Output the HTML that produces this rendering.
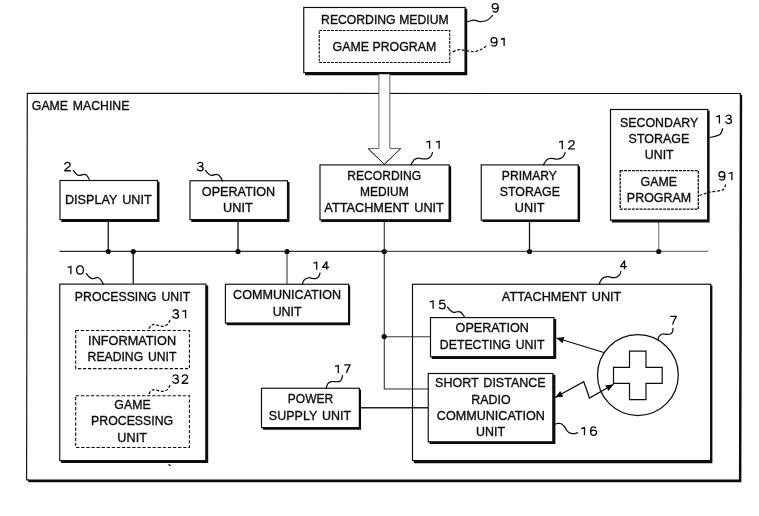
<!DOCTYPE html>
<html><head><meta charset="utf-8"><title>Block diagram</title>
<style>html,body{margin:0;padding:0;background:#fff}svg{display:block}text{font-family:"Liberation Sans",sans-serif}</style>
</head><body>
<svg width="759" height="516" viewBox="0 0 759 516" font-family="Liberation Sans, sans-serif" fill="#0c0c0c" style="filter:grayscale(1)">
<rect width="759" height="516" fill="#fff"/>
<path d="M26.6,480.3 L27.3,93.4 L740.5,93.5 L740.3,96" fill="none" stroke="#0c0c0c" stroke-width="1.15" stroke-linejoin="miter"/>
<path d="M739.8,94.9 L742.2,94.9 L741.4,482.2 L28.2,482.2 L28.2,479.4 L738.9,479.5 Z" fill="#0c0c0c"/>
<path d="M26.2,479.9 H29" fill="none" stroke="#0c0c0c" stroke-width="1.1"/>
<text x="80.60" y="110" font-size="13.4" text-anchor="middle" textLength="97.50" lengthAdjust="spacingAndGlyphs" stroke="#0c0c0c" stroke-width="0.35" word-spacing="1.6">GAME MACHINE</text>
<line x1="59.5" y1="251.4" x2="384.3" y2="251.4" stroke="#2e2e2e" stroke-width="1.15"/>
<line x1="384.3" y1="251.4" x2="659" y2="251.4" stroke="#505050" stroke-width="1.15"/>
<line x1="659" y1="251.4" x2="708.3" y2="251.4" stroke="#7a7a7a" stroke-width="1.1"/>
<line x1="108.25" y1="221" x2="108.25" y2="251.4" stroke="#0c0c0c" stroke-width="1.25"/>
<line x1="133.25" y1="251.4" x2="133.25" y2="283.75" stroke="#0c0c0c" stroke-width="1.25"/>
<line x1="238" y1="221" x2="238" y2="251.4" stroke="#0c0c0c" stroke-width="1.25"/>
<line x1="287" y1="251.4" x2="287" y2="284.25" stroke="#444" stroke-width="1.15"/>
<line x1="384.3" y1="221" x2="384.3" y2="389" stroke="#3a3a3a" stroke-width="1.15"/>
<line x1="529.5" y1="221" x2="529.5" y2="251.4" stroke="#0c0c0c" stroke-width="1.25"/>
<line x1="658.75" y1="221.5" x2="658.75" y2="251.4" stroke="#777" stroke-width="1.1"/>
<line x1="384.3" y1="336.7" x2="430.5" y2="336.7" stroke="#3a3a3a" stroke-width="1.15"/>
<line x1="383.75" y1="389" x2="428.25" y2="389" stroke="#2a2a2a" stroke-width="1.2"/>
<line x1="360.5" y1="407.7" x2="428.25" y2="407.7" stroke="#222" stroke-width="1.35"/>
<circle cx="108.25" cy="251.5" r="2.6" fill="#0c0c0c"/>
<circle cx="133.25" cy="251.5" r="2.6" fill="#0c0c0c"/>
<circle cx="238" cy="251.5" r="2.6" fill="#0c0c0c"/>
<circle cx="287" cy="251.5" r="2.6" fill="#0c0c0c"/>
<circle cx="384.3" cy="251.5" r="2.6" fill="#0c0c0c"/>
<circle cx="529.5" cy="251.5" r="2.6" fill="#0c0c0c"/>
<circle cx="658.75" cy="251.5" r="2.6" fill="#0c0c0c"/>
<circle cx="384.2" cy="336.6" r="2.6" fill="#0c0c0c"/>
<rect x="303.75" y="7.5" width="161.45" height="65.05" fill="#fff" stroke="#0c0c0c" stroke-width="1.15"/>
<path d="M464.70,8.80 H467.25 V75.30 H305.05 V72.05 H464.70 Z" fill="#0c0c0c"/>
<text x="384.88" y="24" font-size="13.4" text-anchor="middle" textLength="127.55" lengthAdjust="spacingAndGlyphs" stroke="#0c0c0c" stroke-width="0.35" word-spacing="0.3">RECORDING MEDIUM</text>
<rect x="319.25" y="30.5" width="130.50" height="32.00" fill="none" stroke="#0c0c0c" stroke-width="1.08" stroke-dasharray="2.9 1.02"/>
<text x="384.38" y="50.5" font-size="13.4" text-anchor="middle" textLength="103.55" lengthAdjust="spacingAndGlyphs" stroke="#0c0c0c" stroke-width="0.35" word-spacing="0.2">GAME PROGRAM</text>
<path d="M 492.73,10.66 C 493.15,11.58 494.05,12.00 495.13,12.00 C 497.05,12.00 498.25,10.32 498.25,7.38 C 498.25,4.87 497.17,3.60 495.25,3.60 C 493.33,3.60 492.25,4.70 492.25,6.29 C 492.25,7.80 493.33,8.81 495.13,8.81 C 496.75,8.81 497.95,7.80 498.13,6.46" fill="none" stroke="#0c0c0c" stroke-width="1.3" stroke-linecap="butt" stroke-linejoin="round"/>
<path d="M 491.53,44.71 C 491.95,45.63 492.85,46.05 493.93,46.05 C 495.85,46.05 497.05,44.37 497.05,41.43 C 497.05,38.91 495.97,37.65 494.05,37.65 C 492.13,37.65 491.05,38.74 491.05,40.34 C 491.05,41.85 492.13,42.86 493.93,42.86 C 495.55,42.86 496.75,41.85 496.93,40.51" fill="none" stroke="#0c0c0c" stroke-width="1.3" stroke-linecap="butt" stroke-linejoin="round"/>
<path d="M 504.13,46.05 V 37.65 M 504.55,38.49 L 500.83,39.25" fill="none" stroke="#0c0c0c" stroke-width="1.3" stroke-linecap="butt" stroke-linejoin="round"/>
<path d="M492.6,15.6 C491.67,16.38 489.10,19.30 487,20.3 C484.90,21.30 482.17,21.62 480,21.6 C477.83,21.58 476.07,20.20 474,20.2 C471.93,20.20 468.67,21.37 467.6,21.6" fill="none" stroke="#0c0c0c" stroke-width="1.25" stroke-linecap="round"/>
<path d="M486.2,46.2 C485.17,46.83 482.20,49.10 480,50 C477.80,50.90 475.50,51.53 473,51.6 C470.50,51.67 467.50,50.70 465,50.4 C462.50,50.10 460.45,49.35 458,49.8 C455.55,50.25 451.58,52.55 450.3,53.1" fill="none" stroke="#0c0c0c" stroke-width="1.25" stroke-dasharray="2.9 1.7" stroke-linecap="butt"/>
<path d="M378.9,74.3 V148.5 H368 L384.3,164.3 L400.75,148.5 H389.8 V74.3" fill="#fff" stroke="#666" stroke-width="1"/>
<path d="M368,148.5 L384.3,164.3 L400.75,148.5" fill="none" stroke="#2a2a2a" stroke-width="1"/>
<rect x="60" y="180.5" width="97.50" height="39.15" fill="#fff" stroke="#0c0c0c" stroke-width="1.15"/>
<path d="M157.00,181.80 H159.50 V222.00 H61.30 V219.15 H157.00 Z" fill="#0c0c0c"/>
<text x="108.35" y="204.25" font-size="13.4" text-anchor="middle" textLength="86.80" lengthAdjust="spacingAndGlyphs" stroke="#0c0c0c" stroke-width="0.35" word-spacing="1.6">DISPLAY UNIT</text>
<path d="M 64.69,164.62 C 65.05,163.02 66.13,162.35 67.45,162.35 C 69.25,162.35 70.21,163.27 70.21,164.62 C 70.21,166.05 69.01,166.97 67.45,168.06 C 65.95,169.07 64.93,169.74 64.63,170.75 H 70.87" fill="none" stroke="#0c0c0c" stroke-width="1.3" stroke-linecap="butt" stroke-linejoin="round"/>
<path d="M73.25,170.45 C73.80,171.07 75.55,173.33 76.55,174.15 C77.55,174.97 77.98,175.30 79.25,175.35 C80.52,175.40 82.97,174.51 84.15,174.45 C85.33,174.39 85.62,174.42 86.35,175.0 C87.08,175.58 87.97,176.99 88.55,177.95 C89.13,178.91 89.63,180.28 89.85,180.75" fill="none" stroke="#0c0c0c" stroke-width="1.25" stroke-linecap="round"/>
<rect x="190" y="180.75" width="97.50" height="38.90" fill="#fff" stroke="#0c0c0c" stroke-width="1.15"/>
<path d="M287.00,182.05 H289.50 V222.00 H191.30 V219.15 H287.00 Z" fill="#0c0c0c"/>
<text x="238.50" y="196" font-size="13.4" text-anchor="middle" textLength="73.30" lengthAdjust="spacingAndGlyphs" stroke="#0c0c0c" stroke-width="0.35" word-spacing="1.6">OPERATION</text>
<text x="237.88" y="212" font-size="13.4" text-anchor="middle" textLength="29.55" lengthAdjust="spacingAndGlyphs" stroke="#0c0c0c" stroke-width="0.35" word-spacing="1.6">UNIT</text>
<path d="M 197.45,164.13 C 198.05,162.95 198.95,162.45 200.15,162.45 C 201.83,162.45 202.73,163.29 202.73,164.47 C 202.73,165.64 201.65,166.31 199.67,166.31 C 201.95,166.31 203.15,167.15 203.15,168.58 C 203.15,170.01 201.95,170.85 200.15,170.85 C 198.65,170.85 197.63,170.18 197.15,168.75" fill="none" stroke="#0c0c0c" stroke-width="1.3" stroke-linecap="butt" stroke-linejoin="round"/>
<path d="M205.55,170.45 C206.05,171.03 207.50,173.13 208.55,173.95 C209.60,174.77 210.58,175.27 211.85,175.35 C213.12,175.43 214.98,174.47 216.15,174.45 C217.32,174.43 218.03,174.67 218.85,175.25 C219.67,175.83 220.45,177.00 221.05,177.95 C221.65,178.90 222.22,180.45 222.45,180.95" fill="none" stroke="#0c0c0c" stroke-width="1.25" stroke-linecap="round"/>
<rect x="320" y="164.9" width="129.25" height="55.00" fill="#fff" stroke="#0c0c0c" stroke-width="1.15"/>
<path d="M448.75,166.20 H451.20 V222.00 H321.30 V219.40 H448.75 Z" fill="#0c0c0c"/>
<text x="384.25" y="179.5" font-size="13.4" text-anchor="middle" textLength="73.80" lengthAdjust="spacingAndGlyphs" stroke="#0c0c0c" stroke-width="0.35" word-spacing="1.6">RECORDING</text>
<text x="384.38" y="196" font-size="13.4" text-anchor="middle" textLength="48.55" lengthAdjust="spacingAndGlyphs" stroke="#0c0c0c" stroke-width="0.35" word-spacing="1.6">MEDIUM</text>
<text x="384.12" y="212" font-size="13.4" text-anchor="middle" textLength="119.55" lengthAdjust="spacingAndGlyphs" stroke="#0c0c0c" stroke-width="0.35" word-spacing="1.6">ATTACHMENT UNIT</text>
<path d="M 429.58,148.85 V 140.45 M 430.00,141.29 L 426.28,142.05" fill="none" stroke="#0c0c0c" stroke-width="1.3" stroke-linecap="butt" stroke-linejoin="round"/>
<path d="M 439.13,148.85 V 140.45 M 439.55,141.29 L 435.83,142.05" fill="none" stroke="#0c0c0c" stroke-width="1.3" stroke-linecap="butt" stroke-linejoin="round"/>
<path d="M432.55,152.65 C432.27,153.26 431.67,155.30 430.85,156.3 C430.03,157.30 428.92,158.23 427.65,158.65 C426.38,159.07 424.80,158.93 423.25,158.85 C421.70,158.77 419.80,158.08 418.35,158.2 C416.90,158.32 415.63,158.73 414.55,159.55 C413.47,160.37 412.43,162.22 411.85,163.1 C411.27,163.98 411.18,164.56 411.05,164.85" fill="none" stroke="#0c0c0c" stroke-width="1.25" stroke-linecap="round"/>
<rect x="481.25" y="164.9" width="97.05" height="55.25" fill="#fff" stroke="#0c0c0c" stroke-width="1.15"/>
<path d="M577.80,166.20 H580.10 V222.00 H482.55 V219.65 H577.80 Z" fill="#0c0c0c"/>
<text x="529.38" y="179.5" font-size="13.4" text-anchor="middle" textLength="55.05" lengthAdjust="spacingAndGlyphs" stroke="#0c0c0c" stroke-width="0.35" word-spacing="1.6">PRIMARY</text>
<text x="529.88" y="196" font-size="13.4" text-anchor="middle" textLength="60.05" lengthAdjust="spacingAndGlyphs" stroke="#0c0c0c" stroke-width="0.35" word-spacing="1.6">STORAGE</text>
<text x="529.62" y="212" font-size="13.4" text-anchor="middle" textLength="29.55" lengthAdjust="spacingAndGlyphs" stroke="#0c0c0c" stroke-width="0.35" word-spacing="1.6">UNIT</text>
<path d="M 562.28,148.95 V 140.55 M 562.70,141.39 L 558.98,142.15" fill="none" stroke="#0c0c0c" stroke-width="1.3" stroke-linecap="butt" stroke-linejoin="round"/>
<path d="M 568.64,142.82 C 569.00,141.22 570.08,140.55 571.40,140.55 C 573.20,140.55 574.16,141.47 574.16,142.82 C 574.16,144.25 572.96,145.17 571.40,146.26 C 569.90,147.27 568.88,147.94 568.58,148.95 H 574.82" fill="none" stroke="#0c0c0c" stroke-width="1.3" stroke-linecap="butt" stroke-linejoin="round"/>
<path d="M565.05,152.65 C564.78,153.26 564.27,155.30 563.45,156.3 C562.63,157.30 561.42,158.19 560.15,158.65 C558.88,159.11 557.38,159.11 555.85,159.05 C554.32,158.99 552.40,158.22 550.95,158.3 C549.50,158.38 548.24,158.75 547.15,159.55 C546.06,160.35 545.00,162.22 544.4,163.1 C543.80,163.98 543.69,164.56 543.55,164.85" fill="none" stroke="#0c0c0c" stroke-width="1.25" stroke-linecap="round"/>
<rect x="610.5" y="109.5" width="97.30" height="110.65" fill="#fff" stroke="#0c0c0c" stroke-width="1.15"/>
<path d="M707.30,110.80 H709.60 V222.50 H611.80 V219.65 H707.30 Z" fill="#0c0c0c"/>
<text x="659.12" y="126.75" font-size="13.4" text-anchor="middle" textLength="78.05" lengthAdjust="spacingAndGlyphs" stroke="#0c0c0c" stroke-width="0.35" word-spacing="1.6">SECONDARY</text>
<text x="659.00" y="143" font-size="13.4" text-anchor="middle" textLength="60.80" lengthAdjust="spacingAndGlyphs" stroke="#0c0c0c" stroke-width="0.35" word-spacing="1.6">STORAGE</text>
<text x="659.25" y="159.25" font-size="13.4" text-anchor="middle" textLength="28.80" lengthAdjust="spacingAndGlyphs" stroke="#0c0c0c" stroke-width="0.35" word-spacing="1.6">UNIT</text>
<rect x="620.2" y="170.6" width="78.10" height="38.60" fill="none" stroke="#0c0c0c" stroke-width="1.3" stroke-dasharray="2.9 1.02"/>
<text x="658.75" y="186" font-size="13.4" text-anchor="middle" textLength="36.30" lengthAdjust="spacingAndGlyphs" stroke="#0c0c0c" stroke-width="0.35" word-spacing="1.6">GAME</text>
<text x="659.00" y="202" font-size="13.4" text-anchor="middle" textLength="64.30" lengthAdjust="spacingAndGlyphs" stroke="#0c0c0c" stroke-width="0.35" word-spacing="1.6">PROGRAM</text>
<path d="M 719.38,123.50 V 115.10 M 719.80,115.94 L 716.08,116.70" fill="none" stroke="#0c0c0c" stroke-width="1.3" stroke-linecap="butt" stroke-linejoin="round"/>
<path d="M 725.80,116.78 C 726.40,115.60 727.30,115.10 728.50,115.10 C 730.18,115.10 731.08,115.94 731.08,117.12 C 731.08,118.29 730.00,118.96 728.02,118.96 C 730.30,118.96 731.50,119.80 731.50,121.23 C 731.50,122.66 730.30,123.50 728.50,123.50 C 727.00,123.50 725.98,122.83 725.50,121.40" fill="none" stroke="#0c0c0c" stroke-width="1.3" stroke-linecap="butt" stroke-linejoin="round"/>
<path d="M722.5,128.75 C722.08,129.71 722.08,133.04 720,134.5 C717.92,135.96 711.67,137.00 710,137.5" fill="none" stroke="#0c0c0c" stroke-width="1.25" stroke-linecap="round"/>
<path d="M 719.43,178.81 C 719.85,179.73 720.75,180.15 721.83,180.15 C 723.75,180.15 724.95,178.47 724.95,175.53 C 724.95,173.01 723.87,171.75 721.95,171.75 C 720.03,171.75 718.95,172.84 718.95,174.44 C 718.95,175.95 720.03,176.96 721.83,176.96 C 723.45,176.96 724.65,175.95 724.83,174.61" fill="none" stroke="#0c0c0c" stroke-width="1.3" stroke-linecap="butt" stroke-linejoin="round"/>
<path d="M 731.88,180.15 V 171.75 M 732.30,172.59 L 728.58,173.35" fill="none" stroke="#0c0c0c" stroke-width="1.3" stroke-linecap="butt" stroke-linejoin="round"/>
<path d="M725.75,184.5 C725.21,185.42 725.12,188.75 722.5,190 C719.88,191.25 713.83,191.08 710,192 C706.17,192.92 701.25,194.92 699.5,195.5" fill="none" stroke="#0c0c0c" stroke-width="1.25" stroke-dasharray="2.9 1.7" stroke-linecap="butt"/>
<rect x="59.75" y="284.1" width="146.25" height="176.55" fill="#fff" stroke="#0c0c0c" stroke-width="1.15"/>
<path d="M205.50,285.40 H208.20 V463.00 H61.05 V460.15 H205.50 Z" fill="#0c0c0c"/>
<text x="132.50" y="300.75" font-size="13.4" text-anchor="middle" textLength="115.30" lengthAdjust="spacingAndGlyphs" stroke="#0c0c0c" stroke-width="0.35" word-spacing="1.6">PROCESSING UNIT</text>
<path d="M 70.88,274.20 V 265.80 M 71.30,266.64 L 67.58,267.40" fill="none" stroke="#0c0c0c" stroke-width="1.3" stroke-linecap="butt" stroke-linejoin="round"/>
<path d="M 80.00,265.80 C 77.55,265.80 76.60,267.65 76.60,270.00 C 76.60,272.35 77.55,274.20 80.00,274.20 C 82.45,274.20 83.40,272.35 83.40,270.00 C 83.40,267.65 82.45,265.80 80.00,265.80 Z" fill="none" stroke="#0c0c0c" stroke-width="1.3" stroke-linecap="butt" stroke-linejoin="round"/>
<path d="M86.35,273.45 C86.75,273.97 87.83,275.70 88.75,276.55 C89.67,277.40 90.85,278.25 91.85,278.55 C92.85,278.85 93.83,278.55 94.75,278.35 C95.67,278.15 96.57,277.30 97.4,277.35 C98.23,277.40 99.03,278.00 99.75,278.65 C100.47,279.30 101.15,280.32 101.75,281.25 C102.35,282.18 103.08,283.75 103.35,284.25" fill="none" stroke="#0c0c0c" stroke-width="1.25" stroke-linecap="round"/>
<rect x="75.7" y="330.5" width="113.70" height="38.10" fill="none" stroke="#0c0c0c" stroke-width="1.08" stroke-dasharray="3.3 1.8"/>
<text x="132.12" y="345.25" font-size="13.4" text-anchor="middle" textLength="88.05" lengthAdjust="spacingAndGlyphs" stroke="#0c0c0c" stroke-width="0.35" word-spacing="1.6">INFORMATION</text>
<text x="132.00" y="361.25" font-size="13.4" text-anchor="middle" textLength="88.80" lengthAdjust="spacingAndGlyphs" stroke="#0c0c0c" stroke-width="0.35" word-spacing="1.6">READING UNIT</text>
<path d="M 172.85,311.43 C 173.45,310.25 174.35,309.75 175.55,309.75 C 177.23,309.75 178.13,310.59 178.13,311.77 C 178.13,312.94 177.05,313.61 175.07,313.61 C 177.35,313.61 178.55,314.45 178.55,315.88 C 178.55,317.31 177.35,318.15 175.55,318.15 C 174.05,318.15 173.03,317.48 172.55,316.05" fill="none" stroke="#0c0c0c" stroke-width="1.3" stroke-linecap="butt" stroke-linejoin="round"/>
<path d="M 185.58,318.15 V 309.75 M 186.00,310.59 L 182.28,311.35" fill="none" stroke="#0c0c0c" stroke-width="1.3" stroke-linecap="butt" stroke-linejoin="round"/>
<path d="M170.15,320.15 C169.83,320.70 169.05,322.53 168.25,323.45 C167.45,324.37 166.57,325.18 165.35,325.65 C164.13,326.12 162.43,326.37 160.95,326.25 C159.47,326.13 157.82,325.23 156.45,324.95 C155.08,324.67 153.73,324.32 152.75,324.55 C151.77,324.78 151.34,325.48 150.55,326.35 C149.76,327.22 148.43,329.18 148.0,329.75" fill="none" stroke="#0c0c0c" stroke-width="1.25" stroke-dasharray="2.9 1.7" stroke-linecap="butt"/>
<rect x="75.7" y="395.8" width="113.70" height="51.70" fill="none" stroke="#0c0c0c" stroke-width="1.08" stroke-dasharray="3.3 1.8"/>
<text x="132.50" y="408.75" font-size="13.4" text-anchor="middle" textLength="36.30" lengthAdjust="spacingAndGlyphs" stroke="#0c0c0c" stroke-width="0.35" word-spacing="1.6">GAME</text>
<text x="132.12" y="425" font-size="13.4" text-anchor="middle" textLength="82.05" lengthAdjust="spacingAndGlyphs" stroke="#0c0c0c" stroke-width="0.35" word-spacing="1.6">PROCESSING</text>
<text x="132.12" y="441.5" font-size="13.4" text-anchor="middle" textLength="29.55" lengthAdjust="spacingAndGlyphs" stroke="#0c0c0c" stroke-width="0.35" word-spacing="1.6">UNIT</text>
<path d="M 172.75,376.53 C 173.35,375.35 174.25,374.85 175.45,374.85 C 177.13,374.85 178.03,375.69 178.03,376.87 C 178.03,378.04 176.95,378.71 174.97,378.71 C 177.25,378.71 178.45,379.55 178.45,380.98 C 178.45,382.41 177.25,383.25 175.45,383.25 C 173.95,383.25 172.93,382.58 172.45,381.15" fill="none" stroke="#0c0c0c" stroke-width="1.3" stroke-linecap="butt" stroke-linejoin="round"/>
<path d="M 182.09,377.12 C 182.45,375.52 183.53,374.85 184.85,374.85 C 186.65,374.85 187.61,375.77 187.61,377.12 C 187.61,378.55 186.41,379.47 184.85,380.56 C 183.35,381.57 182.33,382.24 182.03,383.25 H 188.27" fill="none" stroke="#0c0c0c" stroke-width="1.3" stroke-linecap="butt" stroke-linejoin="round"/>
<path d="M170.15,385.15 C169.83,385.72 169.05,387.62 168.25,388.55 C167.45,389.48 166.57,390.30 165.35,390.75 C164.13,391.20 162.43,391.37 160.95,391.25 C159.47,391.13 157.82,390.27 156.45,390.05 C155.08,389.83 153.73,389.73 152.75,389.95 C151.77,390.17 151.28,390.50 150.55,391.35 C149.82,392.20 148.72,394.43 148.35,395.05" fill="none" stroke="#0c0c0c" stroke-width="1.25" stroke-dasharray="2.9 1.7" stroke-linecap="butt"/>
<rect x="225.4" y="284.25" width="123.25" height="38.90" fill="#fff" stroke="#0c0c0c" stroke-width="1.15"/>
<path d="M348.15,285.55 H350.20 V325.30 H226.70 V322.65 H348.15 Z" fill="#0c0c0c"/>
<text x="287.12" y="299" font-size="13.4" text-anchor="middle" textLength="108.05" lengthAdjust="spacingAndGlyphs" stroke="#0c0c0c" stroke-width="0.35" word-spacing="1.6">COMMUNICATION</text>
<text x="287.15" y="315.5" font-size="13.4" text-anchor="middle" textLength="29.00" lengthAdjust="spacingAndGlyphs" stroke="#0c0c0c" stroke-width="0.35" word-spacing="1.6">UNIT</text>
<path d="M 316.68,269.85 V 261.45 M 317.10,262.29 L 313.38,263.05" fill="none" stroke="#0c0c0c" stroke-width="1.3" stroke-linecap="butt" stroke-linejoin="round"/>
<path d="M 326.79,269.85 V 261.62 L 322.65,267.33 H 329.07" fill="none" stroke="#0c0c0c" stroke-width="1.3" stroke-linecap="butt" stroke-linejoin="round"/>
<path d="M320.05,273.05 C319.84,273.59 319.42,275.40 318.8,276.3 C318.18,277.20 317.39,278.09 316.35,278.45 C315.31,278.81 313.82,278.57 312.55,278.45 C311.28,278.33 310.02,277.61 308.75,277.75 C307.48,277.89 305.90,278.59 304.95,279.3 C304.00,280.01 303.46,281.19 303.05,282.0 C302.64,282.81 302.59,283.79 302.5,284.15" fill="none" stroke="#0c0c0c" stroke-width="1.25" stroke-linecap="round"/>
<rect x="261.5" y="388.25" width="97.90" height="39.40" fill="#fff" stroke="#0c0c0c" stroke-width="1.15"/>
<path d="M358.90,389.55 H361.05 V429.80 H262.80 V427.15 H358.90 Z" fill="#0c0c0c"/>
<text x="310.50" y="403.25" font-size="13.4" text-anchor="middle" textLength="45.30" lengthAdjust="spacingAndGlyphs" stroke="#0c0c0c" stroke-width="0.35" word-spacing="1.6">POWER</text>
<text x="310.00" y="420" font-size="13.4" text-anchor="middle" textLength="82.30" lengthAdjust="spacingAndGlyphs" stroke="#0c0c0c" stroke-width="0.35" word-spacing="1.6">SUPPLY UNIT</text>
<path d="M 338.28,373.15 V 364.75 M 338.70,365.59 L 334.98,366.35" fill="none" stroke="#0c0c0c" stroke-width="1.3" stroke-linecap="butt" stroke-linejoin="round"/>
<path d="M 344.15,364.92 H 350.15 C 348.65,367.27 347.15,370.21 346.43,373.15" fill="none" stroke="#0c0c0c" stroke-width="1.3" stroke-linecap="butt" stroke-linejoin="round"/>
<path d="M342.45,375.65 C342.32,376.20 342.10,378.00 341.65,378.95 C341.20,379.90 340.67,380.88 339.75,381.35 C338.83,381.82 337.47,381.72 336.15,381.75 C334.83,381.78 333.12,381.33 331.85,381.55 C330.58,381.77 329.37,382.40 328.55,383.05 C327.73,383.70 327.33,384.60 326.95,385.45 C326.57,386.30 326.37,387.70 326.25,388.15" fill="none" stroke="#0c0c0c" stroke-width="1.25" stroke-linecap="round"/>
<rect x="412.5" y="284.25" width="298.30" height="176.30" fill="none" stroke="#0c0c0c" stroke-width="1.15"/>
<path d="M710.30,285.55 H712.40 V463.20 H413.80 V460.05 H710.30 Z" fill="#0c0c0c"/>
<text x="561.62" y="301" font-size="13.4" text-anchor="middle" textLength="119.55" lengthAdjust="spacingAndGlyphs" stroke="#0c0c0c" stroke-width="0.35" word-spacing="1.6">ATTACHMENT UNIT</text>
<path d="M 624.54,269.15 V 260.92 L 620.40,266.63 H 626.82" fill="none" stroke="#0c0c0c" stroke-width="1.3" stroke-linecap="butt" stroke-linejoin="round"/>
<path d="M620.95,271.45 C620.70,272.03 620.25,273.97 619.45,274.95 C618.65,275.93 617.33,276.90 616.15,277.35 C614.97,277.80 613.70,277.78 612.35,277.65 C611.00,277.52 609.50,276.55 608.05,276.55 C606.60,276.55 604.88,276.97 603.65,277.65 C602.42,278.33 601.37,279.57 600.65,280.65 C599.93,281.73 599.57,283.57 599.35,284.15" fill="none" stroke="#0c0c0c" stroke-width="1.25" stroke-linecap="round"/>
<rect x="430.5" y="317.6" width="123.50" height="39.25" fill="#fff" stroke="#0c0c0c" stroke-width="1.15"/>
<path d="M553.50,318.90 H556.20 V359.00 H431.80 V356.35 H553.50 Z" fill="#0c0c0c"/>
<text x="492.25" y="332" font-size="13.4" text-anchor="middle" textLength="73.30" lengthAdjust="spacingAndGlyphs" stroke="#0c0c0c" stroke-width="0.35" word-spacing="1.6">OPERATION</text>
<text x="492.12" y="348.75" font-size="13.4" text-anchor="middle" textLength="104.55" lengthAdjust="spacingAndGlyphs" stroke="#0c0c0c" stroke-width="0.35" word-spacing="1.6">DETECTING UNIT</text>
<path d="M 433.08,308.75 V 300.35 M 433.50,301.19 L 429.78,301.95" fill="none" stroke="#0c0c0c" stroke-width="1.3" stroke-linecap="butt" stroke-linejoin="round"/>
<path d="M 444.73,300.35 H 440.05 L 439.75,304.13 C 440.65,303.37 441.55,303.12 442.45,303.12 C 444.25,303.12 445.15,304.30 445.15,305.89 C 445.15,307.66 443.95,308.75 442.15,308.75 C 440.65,308.75 439.63,308.08 439.15,306.90" fill="none" stroke="#0c0c0c" stroke-width="1.3" stroke-linecap="butt" stroke-linejoin="round"/>
<path d="M447.65,307.25 C448.10,307.78 449.35,309.58 450.35,310.45 C451.35,311.32 452.38,312.27 453.65,312.45 C454.92,312.63 456.77,311.60 457.95,311.55 C459.13,311.50 459.93,311.65 460.75,312.15 C461.57,312.65 462.18,313.68 462.85,314.55 C463.52,315.42 464.43,316.88 464.75,317.35" fill="none" stroke="#0c0c0c" stroke-width="1.25" stroke-linecap="round"/>
<rect x="428.25" y="373.5" width="124.75" height="68.40" fill="#fff" stroke="#0c0c0c" stroke-width="1.15"/>
<path d="M552.50,374.80 H555.40 V444.00 H429.55 V441.40 H552.50 Z" fill="#0c0c0c"/>
<text x="490.38" y="387" font-size="13.4" text-anchor="middle" textLength="110.55" lengthAdjust="spacingAndGlyphs" stroke="#0c0c0c" stroke-width="0.35" word-spacing="1.6">SHORT DISTANCE</text>
<text x="491.00" y="403.5" font-size="13.4" text-anchor="middle" textLength="39.30" lengthAdjust="spacingAndGlyphs" stroke="#0c0c0c" stroke-width="0.35" word-spacing="1.6">RADIO</text>
<text x="490.88" y="419.75" font-size="13.4" text-anchor="middle" textLength="108.05" lengthAdjust="spacingAndGlyphs" stroke="#0c0c0c" stroke-width="0.35" word-spacing="1.6">COMMUNICATION</text>
<text x="490.62" y="436.25" font-size="13.4" text-anchor="middle" textLength="29.05" lengthAdjust="spacingAndGlyphs" stroke="#0c0c0c" stroke-width="0.35" word-spacing="1.6">UNIT</text>
<path d="M 584.48,435.30 V 426.90 M 584.90,427.74 L 581.18,428.50" fill="none" stroke="#0c0c0c" stroke-width="1.3" stroke-linecap="butt" stroke-linejoin="round"/>
<path d="M 596.07,428.24 C 595.65,427.32 594.75,426.90 593.67,426.90 C 591.75,426.90 590.55,428.58 590.55,431.52 C 590.55,434.04 591.63,435.30 593.55,435.30 C 595.47,435.30 596.55,434.21 596.55,432.61 C 596.55,431.10 595.47,430.09 593.67,430.09 C 592.05,430.09 590.85,431.10 590.67,432.44" fill="none" stroke="#0c0c0c" stroke-width="1.3" stroke-linecap="butt" stroke-linejoin="round"/>
<path d="M554.5,424.3 C554.99,424.17 556.33,423.59 557.45,423.5 C558.58,423.41 560.07,423.21 561.25,423.75 C562.43,424.29 563.55,425.52 564.55,426.75 C565.55,427.98 566.17,430.00 567.25,431.1 C568.33,432.20 569.78,432.94 571.05,433.35 C572.32,433.76 573.77,433.65 574.85,433.55 C575.93,433.45 577.10,432.88 577.55,432.75" fill="none" stroke="#0c0c0c" stroke-width="1.25" stroke-linecap="round"/>
<circle cx="637.9" cy="375.1" r="40.4" fill="none" stroke="#0c0c0c" stroke-width="1.25"/>
<path d="M629.5,351.2 H646 V367.4 H662.2 V383.4 H646 V399.6 H629.5 V383.4 H613.5 V367.4 H629.5 Z" fill="none" stroke="#0c0c0c" stroke-width="1.2"/>
<path d="M 670.30,316.32 H 676.30 C 674.80,318.67 673.30,321.61 672.58,324.55" fill="none" stroke="#0c0c0c" stroke-width="1.3" stroke-linecap="butt" stroke-linejoin="round"/>
<path d="M672.95,328.3 C672.91,328.80 673.10,330.35 672.7,331.3 C672.30,332.25 671.54,333.50 670.55,334.0 C669.56,334.50 668.12,334.30 666.75,334.3 C665.38,334.30 663.53,333.77 662.35,334.0 C661.17,334.23 660.33,334.92 659.65,335.65 C658.97,336.38 658.52,337.58 658.3,338.35 C658.07,339.12 658.30,339.93 658.3,340.25" fill="none" stroke="#0c0c0c" stroke-width="1.25" stroke-linecap="round"/>
<line x1="603.75" y1="352.5" x2="556.5" y2="338" stroke="#0c0c0c" stroke-width="1.25"/>
<path d="M556.30,337.90 L564.41,337.05 L562.53,343.16 Z" fill="#0c0c0c"/>
<path d="M555.5,397.3 L583.75,381.75 L589.5,398 L613.25,384.5" fill="none" stroke="#0c0c0c" stroke-width="1.25" stroke-linecap="round"/>
<path d="M555.20,397.50 L560.22,391.08 L563.31,396.68 Z" fill="#0c0c0c"/>
<path d="M613.40,384.40 L608.46,390.89 L605.30,385.33 Z" fill="#0c0c0c"/>
<path d="M168,464.2 L169.7,464.3 L171.4,466 L169,465.7 Z" fill="#0c0c0c"/>
</svg>
</body></html>
